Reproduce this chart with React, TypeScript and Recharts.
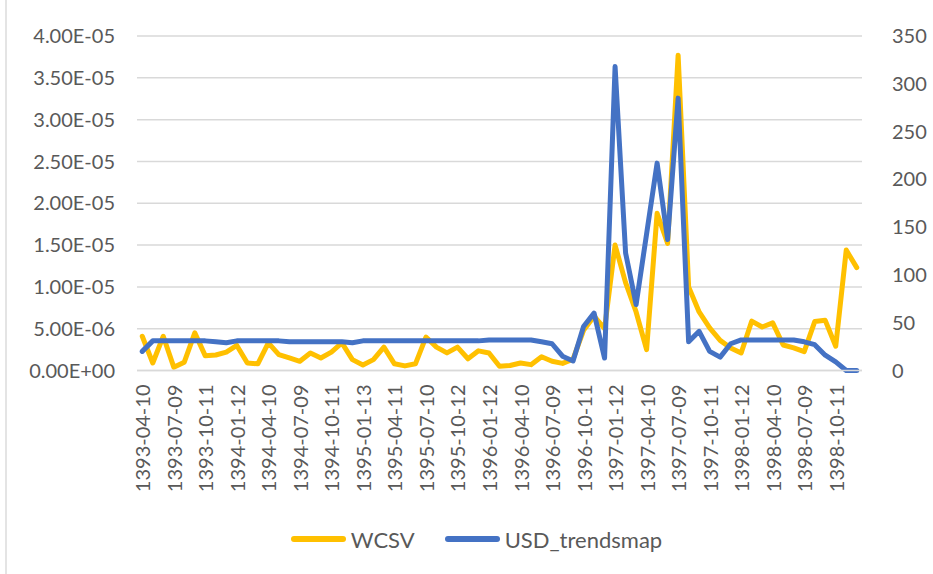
import React from 'react';
import { LineChart, Line, XAxis, YAxis, CartesianGrid, Legend } from 'recharts';

// monthly dates (Persian calendar), only every third one is shown on the axis
const dates = [
  '1393-04-10', '1393-05-10', '1393-06-09', '1393-07-09', '1393-08-10', '1393-09-10',
  '1393-10-11', '1393-11-11', '1393-12-10', '1394-01-12', '1394-02-11', '1394-03-10',
  '1394-04-10', '1394-05-10', '1394-06-09', '1394-07-09', '1394-08-10', '1394-09-10',
  '1394-10-11', '1394-11-12', '1394-12-11', '1395-01-13', '1395-02-12', '1395-03-11',
  '1395-04-11', '1395-05-11', '1395-06-10', '1395-07-10', '1395-08-11', '1395-09-11',
  '1395-10-12', '1395-11-12', '1395-12-11', '1396-01-12', '1396-02-11', '1396-03-10',
  '1396-04-10', '1396-05-10', '1396-06-09', '1396-07-09', '1396-08-10', '1396-09-10',
  '1396-10-11', '1396-11-11', '1396-12-10', '1397-01-12', '1397-02-11', '1397-03-10',
  '1397-04-10', '1397-05-10', '1397-06-09', '1397-07-09', '1397-08-10', '1397-09-10',
  '1397-10-11', '1397-11-11', '1397-12-10', '1398-01-12', '1398-02-11', '1398-03-10',
  '1398-04-10', '1398-05-10', '1398-06-09', '1398-07-09', '1398-08-10', '1398-09-10',
  '1398-10-11', '1398-11-11', '1398-12-10',
];

// WCSV, in units of 1E-06
const wcsv = [
  4.1, 0.9, 4.1, 0.4, 1.0, 4.5, 1.75, 1.85, 2.2, 3.0,
  0.9, 0.8, 3.3, 1.9, 1.5, 1.1, 2.1, 1.5, 2.2, 3.3,
  1.3, 0.65, 1.3, 2.8, 0.8, 0.55, 0.8, 4.0, 2.8, 2.1,
  2.8, 1.4, 2.35, 2.1, 0.5, 0.6, 0.9, 0.7, 1.65, 1.1,
  0.85, 1.35, 4.8, 6.5, 5.0, 15.0, 10.5, 7.0, 2.5, 18.8,
  15.2, 37.7, 10.0, 7.0, 5.1, 3.6, 2.7, 2.1, 5.9, 5.2,
  5.7, 3.05, 2.7, 2.25, 5.85, 6.0, 2.9, 14.4, 12.3,
];

const usdTrendsmap = [
  20, 31, 31, 31, 31, 31, 31, 30, 29, 31,
  31, 31, 31, 31, 30, 30, 30, 30, 30, 30,
  29, 31, 31, 31, 31, 31, 31, 31, 31, 31,
  31, 31, 31, 32, 32, 32, 32, 32, 30, 28,
  15, 10, 46, 60, 13, 318, 123, 69, 143, 217,
  137, 285, 30, 41, 20, 14, 28, 32, 32, 32,
  32, 32, 32, 30, 27, 16, 9, 0, 0,
];

const seriesNames = ['WCSV', 'USD_trendsmap'];
const leftTicks = [0, 5e-6, 1e-5, 1.5e-5, 2e-5, 2.5e-5, 3e-5, 3.5e-5, 4e-5];
const rightTicks = [0, 50, 100, 150, 200, 250, 300, 350];

const data = dates.map((d, i) => ({
  date: d,
  WCSV: wcsv[i] * 1e-6,
  USD_trendsmap: usdTrendsmap[i],
}));

const FONT = 'Lato, "Open Sans", sans-serif';
const TEXT = '#595959';

const sci = (v: number) => {
  if (v === 0) return '0.00E+00';
  const exp = Math.floor(Math.log10(Math.abs(v)) + 1e-9);
  const mant = v / Math.pow(10, exp);
  const sign = exp < 0 ? '-' : '+';
  return `${mant.toFixed(2)}E${sign}${String(Math.abs(exp)).padStart(2, '0')}`;
};

const DateTick = (props: any) => {
  const { x, y, payload } = props;
  return (
    <text
      x={0}
      y={0}
      transform={`translate(${x},${y}) rotate(-90)`}
      textAnchor="end"
      dominantBaseline="central"
      fill={TEXT}
      fontSize={20}
      fontFamily={FONT}
    >
      {payload.value}
    </text>
  );
};

const renderLegend = (props: any) => {
  // keep the series order, recharts sorts the legend by name
  const items = [...props.payload].sort(
    (a: any, b: any) => seriesNames.indexOf(a.value) - seriesNames.indexOf(b.value)
  );
  return (
    <div style={{ display: 'flex', justifyContent: 'center', alignItems: 'center', height: 30, paddingLeft: 20, fontFamily: FONT }}>
      {items.map((p: any, i: number) => (
        <div key={p.value} style={{ display: 'flex', alignItems: 'center', marginLeft: i === 0 ? 0 : 30 }}>
          <div style={{ width: 55, height: 6, borderRadius: 3, background: p.color }} />
          <span style={{ color: TEXT, fontSize: 22, marginLeft: 5 }}>{p.value}</span>
        </div>
      ))}
    </div>
  );
};

export default function App() {
  return (
    <div style={{ position: 'absolute', left: 0, top: 0, width: 933, height: 574, background: '#fff', fontFamily: FONT }}>
      <div style={{ position: 'absolute', left: 5, top: 0, width: 2, height: 574, background: '#e4e4e4' }} />
      <LineChart width={933} height={574} data={data} margin={{ top: 36, right: 0, bottom: 20, left: 0 }}>
        <CartesianGrid yAxisId="left" vertical={false} stroke="#d9d9d9" strokeWidth={1.5} />
        <XAxis
          dataKey="date"
          interval={2}
          height={153.5}
          padding={{ left: 5.25, right: 5.25 }}
          tickLine={false}
          tickSize={0}
          tickMargin={14}
          axisLine={{ stroke: '#d9d9d9', strokeWidth: 1.5 }}
          tick={<DateTick />}
        />
        <YAxis
          yAxisId="left"
          width={137}
          domain={[0, 4e-5]}
          ticks={leftTicks}
          tickFormatter={sci}
          axisLine={false}
          tickLine={false}
          tickSize={0}
          tickMargin={22}
          tick={{ fill: TEXT, fontSize: 20, fontFamily: FONT }}
        />
        <YAxis
          yAxisId="right"
          orientation="right"
          width={71}
          domain={[0, 350]}
          ticks={rightTicks}
          axisLine={false}
          tickLine={false}
          tickSize={0}
          tickMargin={22}
          tick={{ fill: TEXT, fontSize: 20, fontFamily: FONT, textAnchor: 'start', dx: 8 }}
        />
        <Legend verticalAlign="bottom" content={renderLegend} />
        <Line
          yAxisId="left"
          type="linear"
          dataKey="WCSV"
          stroke="#FFC000"
          strokeWidth={5}
          strokeLinejoin="round"
          strokeLinecap="round"
          dot={false}
          isAnimationActive={false}
        />
        <Line
          yAxisId="right"
          type="linear"
          dataKey="USD_trendsmap"
          stroke="#4472C4"
          strokeWidth={5}
          strokeLinejoin="round"
          strokeLinecap="round"
          dot={false}
          isAnimationActive={false}
        />
      </LineChart>
    </div>
  );
}
